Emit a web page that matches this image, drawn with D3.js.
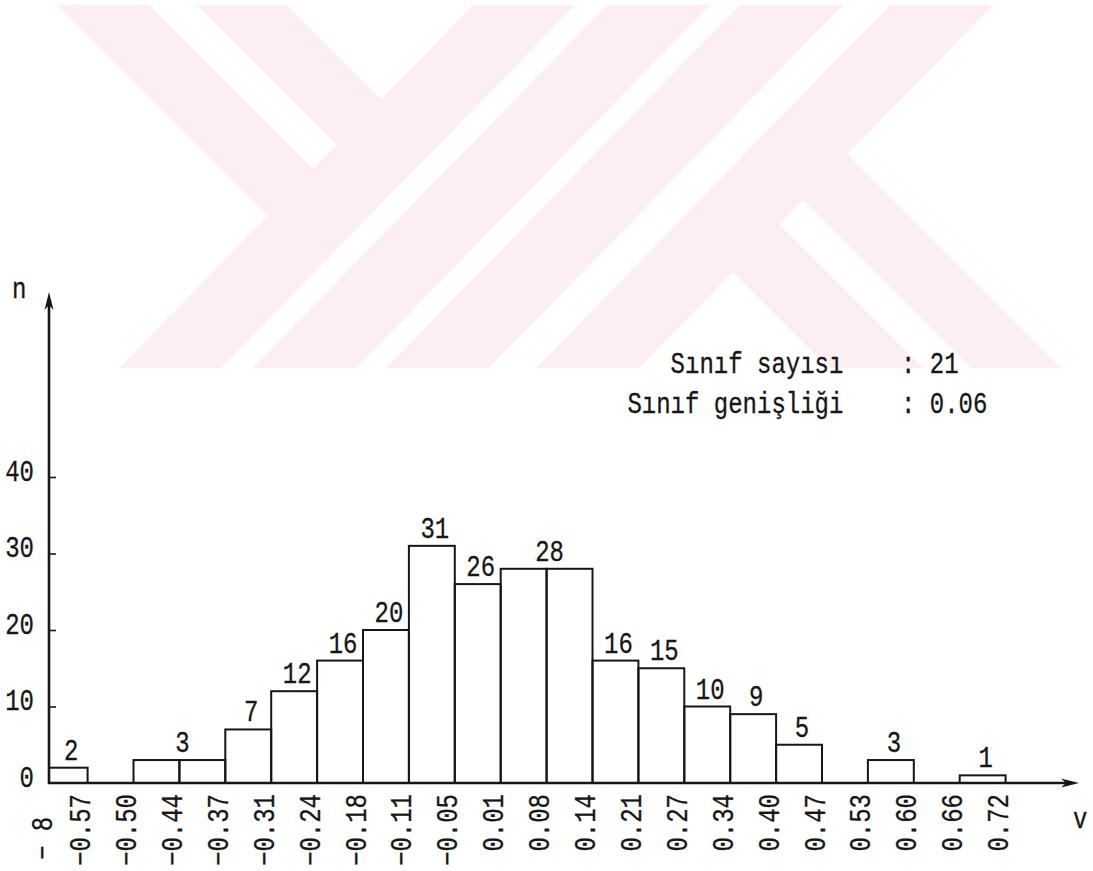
<!DOCTYPE html>
<html>
<head>
<meta charset="utf-8">
<script src="https://cdn.jsdelivr.net/npm/d3@7"></script>
<style>
  body { margin: 0; background: #fff; }
  svg { display: block; }
  .tw { font-family: "Liberation Mono", "DejaVu Sans Mono", monospace; font-size: 24px; fill: #161616; stroke: #161616; stroke-width: 0.25px; white-space: pre; }
</style>
</head>
<body>
<svg id="chart" width="1093" height="871"></svg>
<script>
// Frequency of each class (21 classes, left to right)
const classValues = [2, 0, 3, 3, 7, 12, 16, 20, 31, 26, 28, 28, 16, 15, 10, 9, 5, 0, 3, 0, 1];
// Class limits written under the axis (one per class edge; the first is only partly legible)
const edgeLabels = ["− 8", "−0.57", "−0.50", "−0.44", "−0.37", "−0.31", "−0.24", "−0.18", "−0.11",
  "−0.05", "0.01", "0.08", "0.14", "0.21", "0.27", "0.34", "0.40", "0.47", "0.53", "0.60", "0.66", "0.72"];
const yTickValues = [0, 10, 20, 30, 40];
const classWidthText = "0.06";
const noteNames = ["Sınıf sayısı", "Sınıf genişliği"];

const svg = d3.select("#chart");
const ink = "#161616";
const pink = "#fdeef1";
const TEXT_STRETCH = 1.2; // typewriter glyphs are taller than Liberation Mono's

// ---- background logo: 45° bands in pale pink ----
const wmTop = 5, wmBottom = 368, k = 0.975;
const slashBands = [[477.9, 579.9], [611.9, 714.9], [744.9, 847.9], [894.9, 997.9]]; // x = d - k*y
const upperBackBands = [[52, 144], [192, 282]];  // x = c + y, meeting the first slash band
const lowerBackBands = [[461, 555], [603, 693]]; // x = c + y, leaving the last slash band
const wm = svg.append("g").attr("fill", pink);
const polyLine = d3.line();
slashBands.forEach(([d1, d2]) => {
  wm.append("path").attr("d", polyLine([[d1 - k * wmTop, wmTop], [d2 - k * wmTop, wmTop],
    [d2 - k * wmBottom, wmBottom], [d1 - k * wmBottom, wmBottom]]) + "Z");
});
function meet(c, band) { const dc = (band[0] + band[1]) / 2; const yy = (dc - c) / (1 + k); return [c + yy, yy]; }
upperBackBands.forEach(([c1, c2]) => {
  const s = slashBands[0];
  wm.append("path").attr("d", polyLine([[c1 + wmTop, wmTop], [c2 + wmTop, wmTop], meet(c2, s), meet(c1, s)]) + "Z");
});
lowerBackBands.forEach(([c1, c2]) => {
  const s = slashBands[slashBands.length - 1];
  wm.append("path").attr("d", polyLine([meet(c1, s), meet(c2, s), [c2 + wmBottom, wmBottom], [c1 + wmBottom, wmBottom]]) + "Z");
});

// ---- scales ----
const x = d3.scaleLinear().domain([0, classValues.length]).range([41.7, 1005.6]); // class edge index -> px
const y = d3.scaleLinear().domain([0, 40]).range([783, 477]);
const axisX = 49;
const xAxisEnd = 1079, yAxisTop = 292;

// ---- bars ----
const bars = classValues.map((v, i) => ({ v, i })).filter(d => d.v > 0);
svg.append("g").selectAll("rect").data(bars).join("rect")
  .attr("x", d => Math.max(x(d.i), axisX))
  .attr("width", d => x(d.i + 1) - Math.max(x(d.i), axisX))
  .attr("y", d => y(d.v))
  .attr("height", d => y(0) - y(d.v))
  .attr("fill", "none").attr("stroke", ink).attr("stroke-width", 2);

// ---- y axis ticks and labels ----
const yAxis = d3.axisLeft(y).tickValues(yTickValues).tickSize(-7).tickPadding(15).tickFormat(d3.format("d"));
const gy = svg.append("g").attr("transform", `translate(${axisX},0)`).call(yAxis);
gy.select(".domain").remove();
gy.selectAll(".tick line").attr("stroke", ink).attr("stroke-width", 1.6).filter(d => d === 0).remove();
gy.selectAll(".tick text").attr("class", "tw").attr("font-family", null).attr("font-size", null)
  .attr("dy", null).attr("y", 0)
  .attr("transform", `translate(0,3) scale(1,${TEXT_STRETCH})`);

// ---- x axis edge labels (rotated) ----
const xAxis = d3.axisBottom(x).tickValues(d3.range(1, edgeLabels.length)).tickSize(0).tickFormat(i => edgeLabels[i]);
const gx = svg.append("g").attr("transform", `translate(0,${y(0)})`).call(xAxis);
gx.select(".domain").remove();
gx.selectAll(".tick text").attr("class", "tw").attr("font-family", null).attr("font-size", null)
  .attr("x", null).attr("y", null).attr("dy", null)
  .attr("text-anchor", "end")
  .attr("transform", `translate(2,11) rotate(-90) scale(1,${TEXT_STRETCH})`);
// first edge, left of the vertical axis
svg.append("text").attr("class", "tw").attr("text-anchor", "start")
  .attr("transform", `translate(${x(0) + 10},860) rotate(-90) scale(1,${TEXT_STRETCH})`)
  .text(edgeLabels[0]);

// ---- axis lines with arrowheads ----
svg.append("line").attr("x1", axisX).attr("x2", axisX).attr("y1", y(0) + 1).attr("y2", yAxisTop + 10)
  .attr("stroke", ink).attr("stroke-width", 2.6);
svg.append("line").attr("x1", axisX - 1).attr("x2", xAxisEnd - 10).attr("y1", y(0)).attr("y2", y(0))
  .attr("stroke", ink).attr("stroke-width", 2.6);
svg.append("path").attr("fill", ink)
  .attr("d", polyLine([[axisX, yAxisTop], [axisX + 4.5, yAxisTop + 18], [axisX, yAxisTop + 13], [axisX - 4.5, yAxisTop + 18]]) + "Z");
svg.append("path").attr("fill", ink)
  .attr("d", polyLine([[xAxisEnd, y(0)], [xAxisEnd - 18, y(0) - 4.5], [xAxisEnd - 13, y(0)], [xAxisEnd - 18, y(0) + 4.5]]) + "Z");

// axis titles
svg.append("text").attr("class", "tw").attr("transform", `translate(12,298) scale(1,${TEXT_STRETCH})`).text("n");
svg.append("text").attr("class", "tw").attr("transform", `translate(1073,828) scale(1,${TEXT_STRETCH})`).text("v");

// ---- frequency labels: one per run of equal neighbouring classes ----
const runs = [];
classValues.forEach((v, i) => {
  if (v === 0) return;
  const last = runs[runs.length - 1];
  if (last && last.v === v && last.end === i) last.end = i + 1;
  else runs.push({ v, start: i, end: i + 1 });
});
svg.append("g").selectAll("text").data(runs).join("text")
  .attr("class", "tw").attr("text-anchor", "middle")
  .attr("transform", d => `translate(${(Math.max(x(d.start), axisX) + x(d.end)) / 2 + 3},${y(d.v) - 8}) scale(1,${TEXT_STRETCH})`)
  .text(d => d.v);

// ---- notes ----
const colonX = 901;
const noteValues = [String(classValues.length), classWidthText];
const noteRows = [373, 413];
noteNames.forEach((name, r) => {
  svg.append("text").attr("class", "tw").attr("text-anchor", "end")
    .attr("transform", `translate(${colonX - 4 * 14.4},${noteRows[r]}) scale(1,${TEXT_STRETCH})`).text(name);
  svg.append("text").attr("class", "tw")
    .attr("transform", `translate(${colonX},${noteRows[r]}) scale(1,${TEXT_STRETCH})`).text(": " + noteValues[r]);
});
</script>
</body>
</html>
